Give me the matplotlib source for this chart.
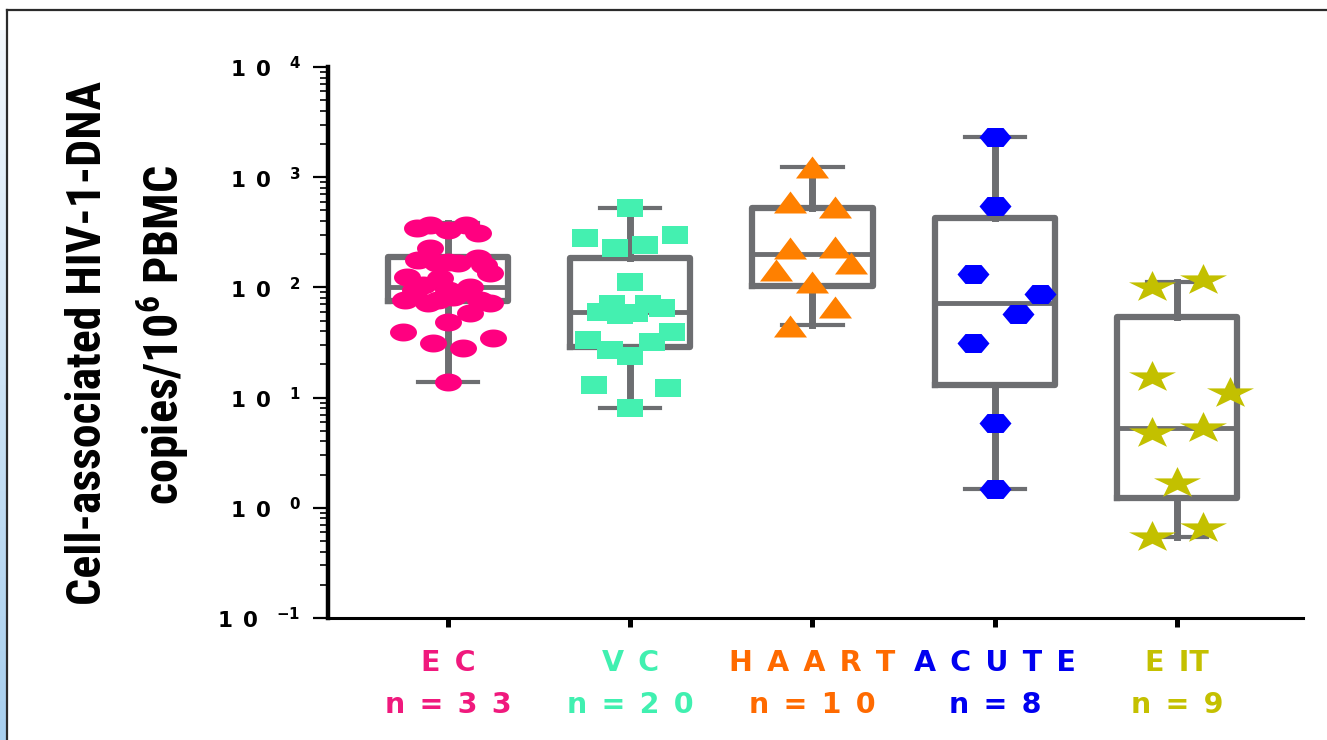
import numpy as np
import matplotlib
matplotlib.use('Agg')
import matplotlib.pyplot as plt
from matplotlib import font_manager as fm
from matplotlib.path import Path
from matplotlib.lines import Line2D
from matplotlib.colors import LinearSegmentedColormap

# condensed bold font for the y label, whichever is there
_have = {f.name for f in fm.fontManager.ttflist}
NARROW = next((n for n in ['Liberation Sans Narrow', 'Roboto Condensed', 'Open Sans Condensed',
                           'IBM Plex Sans Condensed'] if n in _have), 'DejaVu Sans')

plt.rcParams['mathtext.fontset'] = 'custom'
plt.rcParams['mathtext.bf'] = 'DejaVu Sans:bold'
plt.rcParams['mathtext.sf'] = NARROW + ':bold'

W, H = 1327, 740
SP = '\u2002'

# groups
CAT_LABELS = ['E' + SP + 'C', 'V' + SP + 'C', SP.join('HAART'), SP.join('ACUTE'), 'E' + SP + 'IT']
N_LABELS = [SP.join('n=33'), SP.join('n=20'), SP.join('n=10'), SP.join('n=8'), SP.join('n=9')]
LABEL_COLORS = ['#f0197d', '#40f0b0', '#ff6a00', '#0000f0', '#c4c000']
MARKER_COLORS = ['#ff0080', '#44f0b0', '#ff8000', '#0000ff', '#c3c000']

# box stats (median, q1, q3, min, max)
MED = [101, 60, 200, 72, 5.3]
Q1 = [75, 29, 102, 13, 1.23]
Q3 = [190, 185, 525, 425, 54]
WLO = [13.9, 8.1, 46, 1.48, 0.54]
WHI = [382, 526, 1230, 2315, 112]

# individual values and their horizontal jitter (category units)
EC_VALS = [368, 346, 370, 312, 228, 177, 166, 166, 185, 124, 135, 105, 95, 101,
           77, 72, 82, 72, 59, 49, 39, 31, 28, 35, 13.9,
           332, 170, 160, 122, 95, 91, 77, 77]
EC_JIT = [-0.10, -0.17, 0.10, 0.165, -0.10, -0.165, -0.06, 0.055, 0.165, -0.225, 0.23,
          -0.137, 0.0, 0.12, -0.236, -0.11, 0.027, 0.23, 0.12, 0.0, -0.247, -0.082,
          0.082, 0.247, 0.0,
          0.0, 0.0, 0.2, -0.044, -0.18, 0.093, 0.175, -0.055]
VC_VALS = [526, 281, 228, 243, 299, 112, 70, 60, 56, 70, 65, 59, 33, 27, 24, 32, 39,
           13, 12.2, 8.1]
VC_JIT = [0.0, -0.247, -0.082, 0.082, 0.247, 0.0, -0.1, -0.165, -0.055, 0.1, 0.175,
          0.027, -0.23, -0.11, 0.0, 0.12, 0.23, -0.2, 0.21, 0.0]
HAART_VALS = [1230, 590, 533, 230, 235, 145, 165, 111, 66, 45]
HAART_JIT = [0.0, -0.125, 0.125, -0.125, 0.125, -0.2, 0.21, 0.0, 0.125, -0.125]
ACUTE_VALS = [2315, 548, 132, 87, 57, 31, 5.9, 1.48]
ACUTE_JIT = [0.0, 0.0, -0.12, 0.247, 0.126, -0.12, 0.0, 0.0]
EIT_VALS = [101, 117, 15.4, 11, 4.8, 5.3, 1.68, 0.54, 0.66]
EIT_JIT = [-0.137, 0.143, -0.137, 0.29, -0.137, 0.143, 0.0, -0.137, 0.143]

VALUES = [EC_VALS, VC_VALS, HAART_VALS, ACUTE_VALS, EIT_VALS]
JITTER = [EC_JIT, VC_JIT, HAART_JIT, ACUTE_JIT, EIT_JIT]


def stretched(verts):
    return Path(np.asarray(verts), closed=True)


# markers are wider than tall in the figure
t = np.linspace(0, 2 * np.pi, 40)
ellipse = stretched(np.c_[1.5 * np.cos(t), np.sin(t)])
rect = stretched([(-0.75, -0.5), (0.75, -0.5), (0.75, 0.5), (-0.75, 0.5), (-0.75, -0.5)])
tri = stretched([(0, 0.5), (-0.75, -0.5), (0.75, -0.5), (0, 0.5)])
a = np.arange(7) * np.pi / 3
hexa = stretched(np.c_[1.46 * np.cos(a), np.sin(a)])
ang = np.pi / 2 + np.arange(11) * np.pi / 5
rad = np.where(np.arange(11) % 2 == 0, 1.0, 0.382)
star = stretched(np.c_[1.5 * rad * np.cos(ang), rad * np.sin(ang)])

MARKERS = [ellipse, rect, tri, hexa, star]
SIZES_PX = [27, 27, 33, 32, 47]

fig = plt.figure(figsize=(W / 100, H / 100), dpi=100)
ax = fig.add_axes([328 / W, 122 / H, (1303 - 328) / W, (618 - 67) / H])

gray = '#6d6e71'
stats = [dict(med=m, q1=a1, q3=a3, whislo=lo, whishi=hi, fliers=[])
         for m, a1, a3, lo, hi in zip(MED, Q1, Q3, WLO, WHI)]
pos = np.arange(len(stats))
ax.bxp(stats, positions=pos, widths=0.66, capwidths=0.33, showfliers=False,
       boxprops=dict(color=gray, linewidth=4.5),
       medianprops=dict(color=gray, linewidth=3.5),
       whiskerprops=dict(color=gray, linewidth=5),
       capprops=dict(color=gray, linewidth=3), zorder=2)

for i in range(len(VALUES)):
    ms = SIZES_PX[i] * 0.72
    ax.scatter(i + np.array(JITTER[i]), VALUES[i], marker=MARKERS[i], s=ms ** 2,
               color=MARKER_COLORS[i], linewidths=0, zorder=3)

ax.set_yscale('log')
ax.set_ylim(0.1, 10000)
ax.set_xlim(-0.658, 4.691)
ax.spines['top'].set_visible(False)
ax.spines['right'].set_visible(False)
ax.spines['left'].set_linewidth(3.2)
ax.spines['bottom'].set_linewidth(2.2)

ax.set_yticks([0.1, 1, 10, 100, 1000, 10000])
ax.set_yticklabels(['1' + SP + '0 ' + SP + r'$^{\mathbf{-1}}$'] +
                   ['1' + SP + '0 ' + SP + r'$^{\mathbf{%d}}$' % e for e in range(0, 5)],
                   fontfamily='DejaVu Sans', fontweight='bold', fontsize=15.5)
ax.tick_params(axis='y', which='major', length=10.8, width=1.6, pad=9)
ax.tick_params(axis='y', which='minor', length=6, width=1.2)
ax.set_xticks(pos)
ax.set_xticklabels([])
ax.tick_params(axis='x', length=6.5, width=3.6)

for i in range(len(CAT_LABELS)):
    ax.text(i, -0.082, CAT_LABELS[i], transform=ax.get_xaxis_transform(), ha='center',
            va='center', color=LABEL_COLORS[i], fontfamily='DejaVu Sans',
            fontweight='bold', fontsize=20.5)
    ax.text(i, -0.158, N_LABELS[i], transform=ax.get_xaxis_transform(), ha='center',
            va='center', color=LABEL_COLORS[i], fontfamily='DejaVu Sans',
            fontweight='bold', fontsize=20.5)

yl1 = fig.text(88 / W, 1 - 343 / H, 'Cell-associated HIV-1-DNA', rotation=90, ha='center',
               va='center', fontfamily=NARROW, fontweight='bold', fontsize=30)
yl2 = fig.text(163 / W, 1 - 335 / H, r'copies/10$^{\mathsf{6}}$ PBMC', rotation=90,
               ha='center', va='center', fontfamily=NARROW, fontweight='bold', fontsize=30)
# fit the label lengths to the figure (523 px and 340 px tall)
r = fig.canvas.get_renderer()
for txt, target in [(yl1, 523), (yl2, 340)]:
    txt.set_fontsize(30 * target / txt.get_window_extent(r).height)

# frame and the blue strip on the left edge
strip = fig.add_axes([0, 0, 7 / W, 1 - 30 / H])
grad = np.linspace(0, 1, 200).reshape(-1, 1)
strip.imshow(grad, aspect='auto', origin='upper',
             cmap=LinearSegmentedColormap.from_list('b', ['#f2f7fc', '#a8cfee']))
strip.axis('off')
fig.add_artist(Line2D([7 / W, 7 / W], [0, 1 - 10 / H], transform=fig.transFigure,
                      color='#2b2b2b', lw=1.6))
fig.add_artist(Line2D([7 / W, 1], [1 - 10 / H, 1 - 10 / H], transform=fig.transFigure,
                      color='#2b2b2b', lw=1.6))

fig.savefig('out.png', dpi=100)
